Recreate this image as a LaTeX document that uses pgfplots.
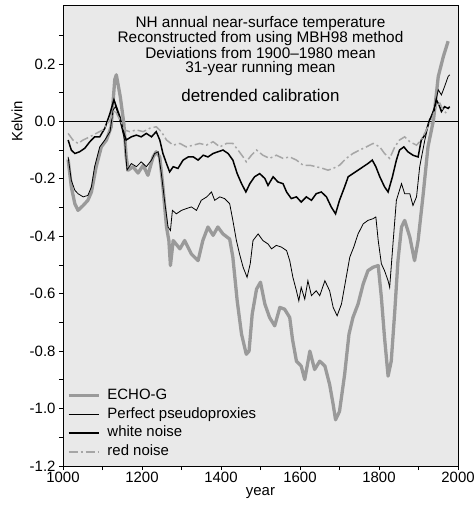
\documentclass[border=0pt]{standalone}
\usepackage{fontspec}
\setmainfont{Liberation Sans}
\usepackage{pgfplots}
\pgfplotsset{compat=1.18}
\definecolor{bgray}{HTML}{E9E9E9}
\definecolor{echog}{HTML}{9A9A9A}
\definecolor{rednoise}{HTML}{A6A6A6}
\begin{document}
\begin{tikzpicture}
\begin{axis}[
  scale only axis, width=395bp, height=461bp,
  xmin=1000, xmax=2000, ymin=-1.2, ymax=0.405,
  axis background/.style={fill=bgray},
  axis line style={line width=0.8bp},
  tick style={black, line width=0.7bp},
  tick align=outside, xtick pos=left, ytick pos=left,
  major tick length=4bp, minor tick length=4bp,
  xtick={1000,1200,1400,1600,1800,2000},
  xticklabels={1000,1200,1400,1600,1800,2000},
  minor xtick={1100,1300,1500,1700,1900},
  ytick={-1.2,-1.0,-0.8,-0.6,-0.4,-0.2,0.0,0.2},
  yticklabels={-1.2,-1.0,-0.8,-0.6,-0.4,-0.2,0.0,0.2},
  minor ytick={-1.1,-0.9,-0.7,-0.5,-0.3,-0.1,0.1,0.3},
  tick label style={font=\fontsize{15}{17}\selectfont},
  xticklabel style={yshift=1bp},
  xlabel={year}, ylabel={Kelvin},
  label style={font=\fontsize{15}{17}\selectfont},
  xlabel style={at={(axis description cs:0.5,-0.0586)}, anchor=center},
  ylabel style={at={(axis description cs:-0.1165,0.7477)}, anchor=center, rotate=0},
  legend style={at={(axis description cs:0.002,0.005)}, anchor=south west,
    draw=none, fill=none, font=\fontsize{15}{17}\selectfont,
    nodes={text height=11bp, text depth=3.5bp, inner sep=2.2bp},
    row sep=0pt},
  legend cell align=left,
  legend image code/.code={\draw[#1] (0bp,0bp) -- (30bp,0bp); \path (35bp,0bp);},
  clip=true,
]
\addplot[black, line width=0.8bp, forget plot] coordinates {(1000,0) (2000,0)};

% ECHO-G
\addplot[echog, line width=3.3bp, line join=round] coordinates {
(1013,-0.133) (1021,-0.228) (1030,-0.287) (1038,-0.310) (1051,-0.293) (1063,-0.275)
(1072,-0.246) (1084,-0.158) (1097,-0.089) (1110,-0.065) (1122,-0.019) (1131,0.145)
(1135,0.162) (1145,0.086) (1154,-0.007) (1160,-0.124) (1165,-0.170) (1177,-0.158)
(1190,-0.180) (1203,-0.153) (1215,-0.188) (1228,-0.124) (1236,-0.106) (1245,-0.124)
(1253,-0.228) (1262,-0.368) (1268,-0.415) (1272,-0.502) (1279,-0.415) (1296,-0.444)
(1308,-0.415) (1325,-0.462) (1342,-0.485) (1354,-0.415) (1367,-0.368) (1380,-0.397)
(1392,-0.368) (1405,-0.392) (1422,-0.410) (1430,-0.473) (1441,-0.625) (1452,-0.741)
(1464,-0.811) (1471,-0.800) (1479,-0.671) (1490,-0.584) (1500,-0.560) (1511,-0.636)
(1523,-0.683) (1536,-0.712) (1549,-0.648) (1561,-0.654) (1574,-0.683) (1581,-0.759)
(1591,-0.835) (1603,-0.852) (1612,-0.899) (1625,-0.800) (1637,-0.864) (1650,-0.835)
(1663,-0.852) (1675,-0.916) (1684,-0.986) (1690,-1.039) (1700,-1.010) (1713,-0.881)
(1724,-0.741) (1734,-0.683) (1747,-0.636) (1760,-0.566) (1772,-0.520) (1785,-0.508)
(1798,-0.502) (1806,-0.613) (1814,-0.753) (1823,-0.887) (1831,-0.835) (1840,-0.660)
(1848,-0.485) (1857,-0.368) (1865,-0.345) (1878,-0.403) (1890,-0.485) (1899,-0.415)
(1912,-0.252) (1924,-0.089) (1938,0.005) (1950,0.156) (1963,0.226) (1975,0.279)
};
\addlegendentry{ECHO-G}

% Perfect pseudoproxies
\addplot[black, line width=0.8bp] coordinates {
(1013,-0.124) (1021,-0.205) (1030,-0.240) (1038,-0.252) (1051,-0.263) (1063,-0.258)
(1072,-0.228) (1080,-0.158) (1093,-0.089) (1106,-0.065) (1119,-0.036) (1127,0.040)
(1133,0.051) (1139,0.028) (1148,-0.019) (1156,-0.065) (1162,-0.170) (1173,-0.147)
(1186,-0.158) (1198,-0.141) (1211,-0.158) (1224,-0.135) (1232,-0.112) (1241,-0.106)
(1249,-0.182) (1257,-0.275) (1266,-0.368) (1272,-0.380) (1277,-0.310) (1287,-0.322)
(1300,-0.310) (1312,-0.304) (1325,-0.298) (1338,-0.310) (1350,-0.275) (1364,-0.263)
(1376,-0.246) (1384,-0.275) (1397,-0.263) (1409,-0.269) (1422,-0.287) (1430,-0.345)
(1439,-0.415) (1447,-0.462) (1456,-0.508) (1466,-0.543) (1474,-0.496) (1481,-0.415)
(1494,-0.392) (1506,-0.415) (1519,-0.427) (1528,-0.444) (1540,-0.432) (1553,-0.438)
(1566,-0.450) (1574,-0.485) (1582,-0.543) (1591,-0.590) (1597,-0.625) (1603,-0.578)
(1612,-0.619) (1620,-0.555) (1629,-0.607) (1641,-0.590) (1650,-0.607) (1663,-0.555)
(1675,-0.590) (1684,-0.648) (1694,-0.677) (1705,-0.636) (1717,-0.543) (1726,-0.473)
(1736,-0.438) (1747,-0.392) (1760,-0.357) (1772,-0.345) (1785,-0.339) (1792,-0.333)
(1798,-0.415) (1806,-0.496) (1814,-0.520) (1823,-0.555) (1827,-0.578) (1836,-0.415)
(1844,-0.275) (1857,-0.217) (1865,-0.252) (1878,-0.252) (1886,-0.293) (1895,-0.263)
(1903,-0.158) (1916,-0.065) (1928,0.005) (1941,0.051) (1950,0.110) (1958,0.092)
(1966,0.121) (1975,0.156) (1979,0.162)
};
\addlegendentry{Perfect pseudoproxies}

% white noise
\addplot[black, line width=1.5bp] coordinates {
(1013,-0.065) (1021,-0.100) (1030,-0.112) (1042,-0.106) (1055,-0.094) (1068,-0.071)
(1080,-0.054) (1093,-0.054) (1106,-0.024) (1119,0.028) (1129,0.075) (1135,0.051)
(1144,0.016) (1154,-0.042) (1160,-0.065) (1173,-0.054) (1186,-0.048) (1198,-0.054)
(1211,-0.042) (1224,-0.054) (1236,-0.036) (1245,-0.065) (1253,-0.112) (1262,-0.147)
(1270,-0.176) (1279,-0.158) (1291,-0.164) (1304,-0.135) (1317,-0.124) (1330,-0.124)
(1342,-0.135) (1355,-0.118) (1367,-0.124) (1380,-0.112) (1392,-0.106) (1405,-0.100)
(1418,-0.112) (1430,-0.135) (1441,-0.182) (1452,-0.217) (1463,-0.246) (1473,-0.217)
(1485,-0.193) (1498,-0.182) (1511,-0.199) (1519,-0.223) (1532,-0.193) (1544,-0.211)
(1557,-0.217) (1566,-0.246) (1578,-0.269) (1591,-0.263) (1603,-0.281) (1616,-0.263)
(1629,-0.275) (1641,-0.252) (1654,-0.246) (1667,-0.263) (1679,-0.298) (1690,-0.322)
(1700,-0.275) (1713,-0.228) (1722,-0.193) (1734,-0.182) (1747,-0.170) (1760,-0.158)
(1772,-0.147) (1783,-0.135) (1792,-0.158) (1802,-0.193) (1814,-0.228) (1823,-0.246)
(1834,-0.193) (1844,-0.135) (1852,-0.100) (1863,-0.089) (1873,-0.106) (1886,-0.118)
(1899,-0.124) (1907,-0.065) (1916,-0.048) (1928,0.005) (1938,0.028) (1945,0.075)
(1952,0.057) (1958,0.034) (1966,0.051) (1975,0.045) (1979,0.051)
};
\addlegendentry{white noise}

% red noise
\addplot[rednoise, line width=1.5bp, dash pattern=on 9bp off 3bp on 2bp off 3bp] coordinates {
(1013,-0.042) (1025,-0.065) (1038,-0.077) (1051,-0.065) (1068,-0.054) (1084,-0.042)
(1101,-0.030) (1119,0.005) (1131,0.040) (1144,0.005) (1156,-0.030) (1169,-0.036)
(1186,-0.030) (1203,-0.036) (1220,-0.024) (1236,-0.019) (1249,-0.036) (1262,-0.065)
(1279,-0.083) (1296,-0.077) (1312,-0.089) (1330,-0.083) (1346,-0.077) (1363,-0.083)
(1380,-0.071) (1397,-0.089) (1414,-0.077) (1430,-0.077) (1443,-0.100) (1456,-0.124)
(1464,-0.141) (1477,-0.118) (1490,-0.100) (1506,-0.118) (1523,-0.129) (1540,-0.118)
(1557,-0.129) (1574,-0.124) (1591,-0.135) (1608,-0.153) (1625,-0.153) (1641,-0.158)
(1658,-0.164) (1671,-0.170) (1684,-0.164) (1700,-0.153) (1717,-0.129) (1734,-0.112)
(1751,-0.100) (1768,-0.089) (1785,-0.077) (1802,-0.089) (1814,-0.112) (1827,-0.129)
(1840,-0.089) (1852,-0.065) (1865,-0.054) (1878,-0.071) (1895,-0.083) (1907,-0.065)
(1920,-0.030) (1933,0.005) (1945,0.051) (1954,0.063) (1962,0.040) (1975,0.022)
};
\addlegendentry{red noise}

\node[anchor=base, font=\fontsize{15.4}{16}\selectfont] at (axis description cs:0.5,0.9508) {NH annual near-surface temperature};
\node[anchor=base, font=\fontsize{15.4}{16}\selectfont] at (axis description cs:0.5,0.9182) {Reconstructed from using MBH98 method};
\node[anchor=base, font=\fontsize{15.4}{16}\selectfont] at (axis description cs:0.5,0.8850) {Deviations from 1900–1980 mean};
\node[anchor=base, font=\fontsize{15.4}{16}\selectfont] at (axis description cs:0.5,0.8531) {31-year running mean};
\node[anchor=base, font=\fontsize{17}{18}\selectfont] at (axis description cs:0.5,0.7900) {detrended calibration};
\end{axis}
\pgfresetboundingbox
\path ([xshift=-63bp,yshift=-45bp]current axis.south west) rectangle ([xshift=16bp,yshift=5bp]current axis.north east);
\end{tikzpicture}
\end{document}
